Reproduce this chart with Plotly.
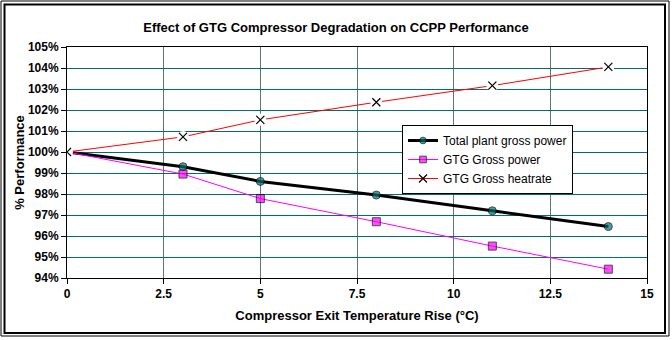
import plotly.graph_objects as go

x_rise = [0, 3, 5, 8, 11, 14]
total_plant_power = [100.0, 99.3, 98.6, 97.95, 97.2, 96.45]
gtg_gross_power = [100.0, 98.95, 97.78, 96.68, 95.52, 94.42]
gtg_gross_heatrate = [100.0, 100.72, 101.53, 102.37, 103.16, 104.05]

y_ticks = list(range(94, 106))
y_tick_labels = [f"{v}%" for v in y_ticks]
x_ticks = [0, 2.5, 5, 7.5, 10, 12.5, 15]
x_tick_labels = ["0", "2.5", "5", "7.5", "10", "12.5", "15"]

W, H = 672, 340
L, R, T, B = 67, 25, 47, 62
PW, PH = W - L - R, H - T - B

def px(xp):
    return (xp - L) / PW

def py(yp):
    return (H - B - yp) / PH

FONT = "Liberation Sans, Arial"

# first point has no marker for the power series (hidden under the heatrate cross)
power_marker_sizes = [0] + [8] * (len(x_rise) - 1)

fig = go.Figure()
fig.add_trace(go.Scatter(
    x=x_rise, y=total_plant_power, name="Total plant gross power",
    mode="lines+markers",
    line=dict(color="black", width=3),
    marker=dict(symbol="circle", size=power_marker_sizes, color="#007373",
                line=dict(color="black", width=1)),
))
fig.add_trace(go.Scatter(
    x=x_rise, y=gtg_gross_power, name="GTG Gross power",
    mode="lines+markers",
    line=dict(color="#FF00FF", width=1),
    marker=dict(symbol="square", size=power_marker_sizes, color="#FF00FF",
                line=dict(color="black", width=1)),
))
fig.add_trace(go.Scatter(
    x=x_rise, y=gtg_gross_heatrate, name="GTG Gross heatrate",
    mode="lines+markers",
    line=dict(color="#FF0000", width=1),
    marker=dict(symbol="x-thin", size=8, color="black", line=dict(color="black", width=1.2)),
))
# white halos to break the red line around each cross (Excel style)
fig.add_trace(go.Scatter(
    x=x_rise, y=gtg_gross_heatrate, mode="markers",
    marker=dict(symbol="circle", size=12, color="white", line=dict(width=0)),
    showlegend=False, hoverinfo="skip",
))
fig.add_trace(go.Scatter(
    x=x_rise, y=gtg_gross_heatrate, mode="markers",
    marker=dict(symbol="x-thin", size=8, color="black", line=dict(color="black", width=1.2)),
    showlegend=False, hoverinfo="skip",
))

shapes = [
    dict(type="rect", xref="paper", yref="paper",
         x0=px(1), x1=px(669), y0=py(336), y1=py(1),
         line=dict(color="black", width=1), layer="below"),
    dict(type="rect", xref="paper", yref="paper",
         x0=px(4.5), x1=px(665), y0=py(333), y1=py(4.5),
         line=dict(color="black", width=2), layer="below"),
]

fig.update_layout(
    width=W, height=H,
    margin=dict(l=L, r=R, t=T, b=B),
    paper_bgcolor="white", plot_bgcolor="white",
    font=dict(family=FONT, size=12, color="black"),
    title=dict(text="<b>Effect of GTG Compressor Degradation on CCPP Performance</b>",
               x=0.5, xref="container", y=1 - 27 / H, yanchor="middle",
               font=dict(family=FONT, size=13, color="black")),
    xaxis=dict(
        range=[0, 15], tickvals=x_ticks, ticktext=[f"<b>{t}</b>" for t in x_tick_labels],
        showgrid=True, gridcolor="#5E7676", gridwidth=1,
        showline=True, linecolor="black", linewidth=1, mirror=True,
        ticks="outside", ticklen=5, tickcolor="black",
        zeroline=False,
        tickfont=dict(family=FONT, size=12),
        title=dict(text="<b>Compressor Exit Temperature Rise (°C)</b>",
                   font=dict(family=FONT, size=13), standoff=10),
    ),
    yaxis=dict(
        range=[94, 105], tickvals=y_ticks, ticktext=[f"<b>{t}</b>" for t in y_tick_labels],
        showgrid=True, gridcolor="#006E6E", gridwidth=1,
        showline=True, linecolor="black", linewidth=1, mirror=True,
        ticks="outside", ticklen=5, tickcolor="black",
        zeroline=False,
        tickfont=dict(family=FONT, size=12),
        title=dict(text="<b>% Performance</b>", font=dict(family=FONT, size=13), standoff=0),
    ),
    legend=dict(
        x=px(402), y=py(125), xanchor="left", yanchor="top",
        bgcolor="white", bordercolor="black", borderwidth=1,
        font=dict(family=FONT, size=12),
        tracegroupgap=0, itemwidth=30,
    ),
    shapes=shapes,
)

fig.write_html("out.html")
